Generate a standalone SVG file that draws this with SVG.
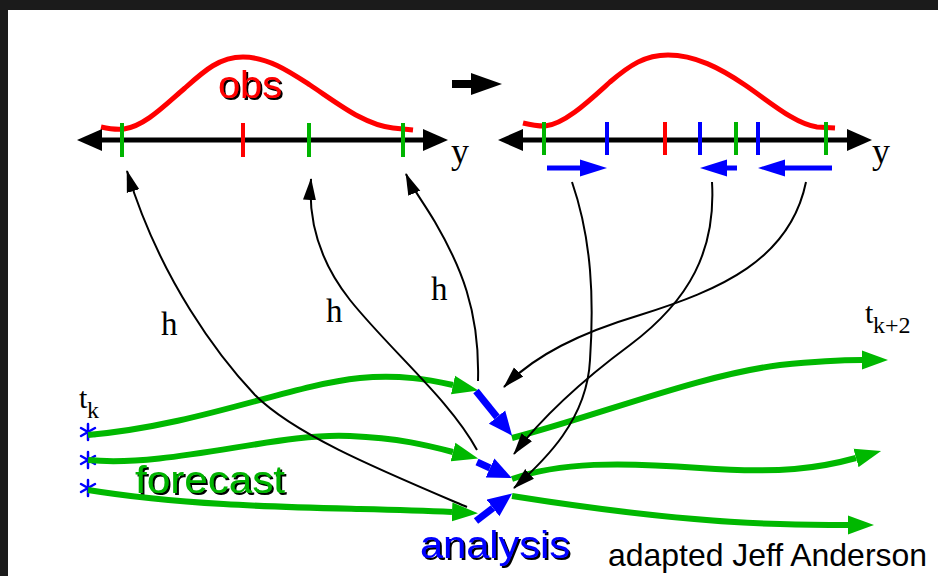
<svg xmlns="http://www.w3.org/2000/svg" width="938" height="576" viewBox="0 0 938 576">
<style>
.frame{fill:#1b1b1b}
.axis{stroke:#000;stroke-width:5;fill:none;marker-start:url(#axhead);marker-end:url(#axhead)}
.tg{stroke:#00b400;stroke-width:4}
.tr{stroke:#ff0000;stroke-width:4}
.tb{stroke:#0000ff;stroke-width:4}
.pdf{fill:none;stroke:#ff0000;stroke-width:5}
.traj{fill:none;stroke:#00b800;stroke-width:6;marker-end:url(#gh)}
.trajo{fill:none;stroke:#00b800;stroke-width:6;marker-end:url(#gh)}
.map{fill:none;stroke:#000;stroke-width:2;marker-end:url(#bh)}
.inc{stroke:#0000ff;stroke-width:5;marker-end:url(#sbh)}
.upd{stroke:#0000ff;stroke-width:7;marker-end:url(#lbh)}
.star{stroke:#0000ff;stroke-width:2.5;stroke-linecap:round}
.big{font-family:"Liberation Sans",Arial,sans-serif;filter:url(#sh)}
.serif{font-family:"Liberation Serif","Times New Roman",serif;fill:#000}
.sans{font-family:"Liberation Sans",Arial,sans-serif;fill:#000}
</style>
<defs>
<filter id="sh" x="-10%" y="-10%" width="130%" height="140%">
<feDropShadow dx="2" dy="2" stdDeviation="0.3" flood-color="#000" flood-opacity="1"/>
</filter>
<marker id="axhead" markerUnits="userSpaceOnUse" viewBox="0 -12 26 24" refX="0" refY="0" markerWidth="26" markerHeight="24" orient="auto-start-reverse">
<path d="M0,-11 L25,0 L0,11 z" fill="#000"/>
</marker>
<marker id="gh" markerUnits="userSpaceOnUse" viewBox="0 -10 28 20" refX="0" refY="0" markerWidth="28" markerHeight="20" orient="auto">
<path d="M0,-9.5 L26,0 L0,9.5 z" fill="#00b800"/>
</marker>
<marker id="bh" markerUnits="userSpaceOnUse" viewBox="0 -8 24 16" refX="21" refY="0" markerWidth="24" markerHeight="16" orient="auto">
<path d="M0,-6.5 L22,0 L0,6.5 z" fill="#000"/>
</marker>
<marker id="sbh" markerUnits="userSpaceOnUse" viewBox="0 -9 28 18" refX="0" refY="0" markerWidth="28" markerHeight="18" orient="auto">
<path d="M0,-8.5 L27,0 L0,8.5 z" fill="#0000ff"/>
</marker>
<marker id="lbh" markerUnits="userSpaceOnUse" viewBox="0 -11 25 22" refX="0" refY="0" markerWidth="25" markerHeight="22" orient="auto">
<path d="M0,-10.5 L24,0 L0,10.5 z" fill="#0000ff"/>
</marker>
<marker id="kh" markerUnits="userSpaceOnUse" viewBox="0 -12 32 24" refX="0" refY="0" markerWidth="32" markerHeight="24" orient="auto">
<path d="M0,-11 L31,0 L0,11 z" fill="#000"/>
</marker>
</defs>
<rect width="938" height="576" fill="#fff"/>
<rect class="frame" x="0" y="0" width="938" height="10"/>
<rect class="frame" x="0" y="0" width="8" height="576"/>

<g id="prior-panel">
<path class="pdf" d="M101,127 C110,129 116,130 124,129 C145,126 165,105 185,88 C205,70 220,57 243,57 C268,57 290,72 310,85 C340,105 365,125 393,128 L413,130"/>
<line class="axis" x1="102" y1="140" x2="423" y2="140"/>
<line class="tg" x1="122" y1="123" x2="122" y2="157"/>
<line class="tr" x1="243" y1="123" x2="243" y2="157"/>
<line class="tg" x1="309" y1="123" x2="309" y2="157"/>
<line class="tg" x1="403" y1="123" x2="403" y2="157"/>
<text class="big" x="218" y="98" font-size="38.5" textLength="64" lengthAdjust="spacingAndGlyphs" fill="#ff0000">obs</text>
<text class="serif" x="451" y="163" font-size="36">y</text>
</g>

<g id="step-arrow">
<line x1="452" y1="84" x2="471" y2="84" stroke="#000" stroke-width="8" marker-end="url(#kh)"/>
</g>

<g id="posterior-panel">
<path class="pdf" d="M523,123 C531,125 538,126 545,126 C565,124 590,100 610,82 C630,65 645,55 668,55 C695,55 720,68 745,85 C770,102 795,124 817,127 L835,128"/>
<line class="axis" x1="523" y1="140" x2="847" y2="140"/>
<line class="tg" x1="544" y1="122" x2="544" y2="155"/>
<line class="tb" x1="607" y1="122" x2="607" y2="155"/>
<line class="tr" x1="665" y1="122" x2="665" y2="155"/>
<line class="tb" x1="700" y1="122" x2="700" y2="155"/>
<line class="tg" x1="736" y1="122" x2="736" y2="155"/>
<line class="tb" x1="758" y1="122" x2="758" y2="155"/>
<line class="tg" x1="826" y1="122" x2="826" y2="155"/>
<line class="inc" x1="547" y1="168" x2="580" y2="168"/>
<line class="inc" x1="737" y1="168" x2="727" y2="168"/>
<line class="inc" x1="832" y1="168" x2="785" y2="168"/>
<text class="serif" x="872" y="163" font-size="36">y</text>
</g>

<g id="ensemble-tk">
<g class="star">
<line x1="88" y1="424" x2="88" y2="440"/><line x1="81" y1="428" x2="95" y2="436"/><line x1="81" y1="436" x2="95" y2="428"/>
<line x1="88" y1="452" x2="88" y2="468"/><line x1="81" y1="456" x2="95" y2="464"/><line x1="81" y1="464" x2="95" y2="456"/>
<line x1="88" y1="480" x2="88" y2="496"/><line x1="81" y1="484" x2="95" y2="492"/><line x1="81" y1="492" x2="95" y2="484"/>
</g>
<text class="serif" x="79" y="408" font-size="30">t<tspan x="87" y="418" font-size="24">k</tspan></text>
</g>

<g id="labels">
<text class="big" x="135" y="493" font-size="38.5" textLength="150" lengthAdjust="spacingAndGlyphs" fill="#00b400">forecast</text>
<text class="big" x="420" y="558" font-size="38" textLength="150" lengthAdjust="spacingAndGlyphs" fill="#0000ff">analysis</text>
<text class="sans" x="608" y="566" font-size="32" textLength="319" lengthAdjust="spacingAndGlyphs">adapted Jeff Anderson</text>
<text class="serif" x="865" y="323" font-size="30">t<tspan x="873" y="333" font-size="24">k+2</tspan></text>
<text class="serif" x="161" y="335" font-size="33">h</text>
<text class="serif" x="326" y="322" font-size="33">h</text>
<text class="serif" x="431" y="300" font-size="33">h</text>
</g>

<g id="connectors">
<path class="traj" d="M88,435 C200,425 290,385 360,378 C400,374 430,380 453,385"/>
<path class="traj" d="M88,460 C170,468 280,432 350,436 C400,438 430,446 453,452"/>
<path class="traj" d="M88,490 C180,505 280,507 360,509 C400,510 430,511 452,512"/>
<path class="trajo" d="M512,438 C600,415 700,375 780,365 C820,361 840,360 862,360"/>
<path class="trajo" d="M512,479 C560,462 620,462 700,468 C780,474 820,468 856,458"/>
<path class="trajo" d="M512,496 C600,510 700,522 780,524 C810,525 830,525 848,525"/>
<line class="upd" x1="476" y1="391" x2="497" y2="417"/>
<line class="upd" x1="477" y1="462" x2="490" y2="468"/>
<line class="upd" x1="476" y1="521" x2="493" y2="508"/>
<path class="map" d="M467,507 C380,470 295,435 255,395 C220,358 160,280 127,171"/>
<path class="map" d="M477,450 C450,400 390,350 350,300 C320,262 308,220 311,179"/>
<path class="map" d="M478,381 C480,310 460,265 435,222 C422,200 412,188 406,174"/>
<path class="map" d="M572,182 C592,240 594,300 590,360 C587,420 545,460 514,488"/>
<path class="map" d="M712,182 C716,250 690,300 630,345 C580,382 540,420 514,454"/>
<path class="map" d="M806,182 C790,260 720,290 640,315 C580,333 535,355 504,387"/>
</g>
</svg>
